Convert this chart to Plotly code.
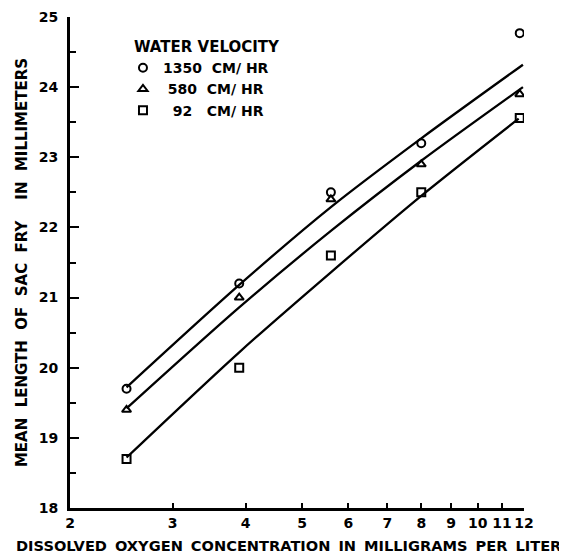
import plotly.graph_objects as go

# Observed points
oxygen = [2.5, 3.9, 5.6, 8.0, 11.8]
len_1350 = [19.7, 21.2, 22.5, 23.2, 24.77]
len_580 = [19.4, 21.0, 22.4, 22.9, 23.9]
len_92 = [18.7, 20.0, 21.6, 22.5, 23.56]

# Fitted curves
fit_x = [2.5, 3.9, 5.6, 8.0, 11.95]
fit_x_92 = [2.5, 3.9, 5.6, 8.0, 11.75]
fit_1350 = [19.72, 21.18, 22.29, 23.27, 24.32]
fit_580 = [19.42, 20.86, 21.95, 22.95, 24.0]
fit_92 = [18.72, 20.22, 21.36, 22.45, 23.55]

series_names = ["1350\u00a0\u00a0CM/\u00a0HR", "\u00a0580\u00a0\u00a0CM/\u00a0HR", "\u00a0\u00a092\u00a0\u00a0\u00a0CM/\u00a0HR"]
symbols = ["circle-open", "triangle-up-open", "square-open"]

x_ticks = [2, 3, 4, 5, 6, 7, 8, 9, 10, 11, 12]
y_ticks = [18, 19, 20, 21, 22, 23, 24, 25]

FONT = "DejaVu Sans"
fig = go.Figure()

for fx, fy in [(fit_x, fit_1350), (fit_x, fit_580), (fit_x_92, fit_92)]:
    fig.add_trace(go.Scatter(x=fx, y=fy, mode="lines",
                             line=dict(color="black", width=2.3, shape="spline", smoothing=0.8),
                             showlegend=False, hoverinfo="skip"))

for name, sym, ys in zip(series_names, symbols, [len_1350, len_580, len_92]):
    fig.add_trace(go.Scatter(x=oxygen, y=ys, mode="markers", name=name,
                             marker=dict(symbol=sym, size=8, color="black", line=dict(width=2, color="black"))))

PLOT_W = 454
fig.update_layout(
    width=559, height=546,
    margin=dict(l=62, r=43, t=9, b=46),
    paper_bgcolor="white", plot_bgcolor="white",
    font=dict(family=FONT, size=14, color="black", weight="bold"),
    legend=dict(x=0.1365, y=0.968, xanchor="left", yanchor="top",
                title=dict(text="WATER\u00a0VELOCITY", font=dict(size=15, family=FONT, weight="bold")),
                font=dict(size=14, family=FONT, weight="bold"),
                bgcolor="rgba(0,0,0,0)", tracegroupgap=0, indentation=-9),
    xaxis=dict(type="log", range=[0.30103, 1.07918], tickvals=x_ticks, ticktext=[str(v) for v in x_ticks],
               ticks="inside", ticklen=5, tickwidth=2, tickcolor="black", automargin=False,
               showline=True, linewidth=2.5, linecolor="black", showgrid=False, zeroline=False,
               tickfont=dict(size=14, family=FONT, weight="bold"), ticklabelstandoff=0),
    yaxis=dict(range=[18, 25], tickvals=y_ticks, ticks="inside", ticklen=9, tickwidth=2, tickcolor="black",
               showline=True, linewidth=3, linecolor="black", showgrid=False, zeroline=False, automargin=False,
               tickfont=dict(size=14, family=FONT, weight="bold"), ticklabelstandoff=6,
               minor=dict(dtick=0.5, ticks="inside", ticklen=6, tickwidth=2, tickcolor="black", showgrid=False),
               title=dict(text="MEAN\u00a0\u00a0LENGTH\u00a0\u00a0OF\u00a0\u00a0SAC\u00a0\u00a0FRY\u00a0\u00a0\u00a0\u00a0IN\u00a0\u00a0MILLIMETERS",
                          font=dict(size=15, family=FONT, weight="bold"), standoff=8)),
    annotations=[dict(text="DISSOLVED\u00a0\u2009OXYGEN\u00a0\u2009CONCENTRATION\u00a0\u2009IN\u00a0\u2009MILLIGRAMS\u00a0\u2009PER\u00a0\u2009LITER",
                      xref="paper", yref="paper", x=(288.5 - 70) / PLOT_W, y=0, xanchor="center", yanchor="middle",
                      yshift=-37, showarrow=False, font=dict(size=14.6, family=FONT, weight="bold"))],
)

fig.write_html("out.html")
